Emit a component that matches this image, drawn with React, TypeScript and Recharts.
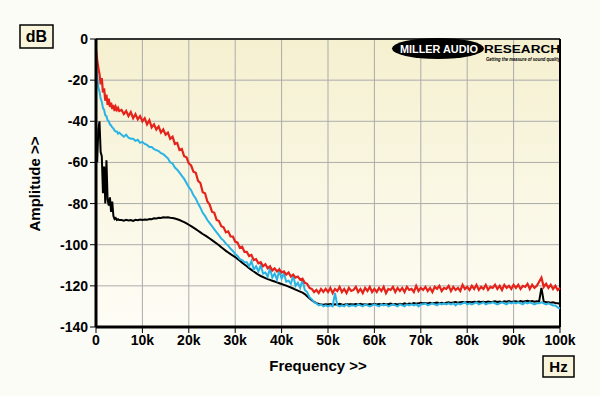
import { LineChart, Line, XAxis, YAxis, CartesianGrid, ReferenceLine } from 'recharts';

// frequency grid in kHz (finer steps below 5k where the curves fall fast)
const FREQ_KHZ = [
  0, 0.25, 0.5, 0.75, 1, 1.25, 1.5, 1.75, 2, 2.25, 2.5, 2.75, 3, 3.25, 3.5, 3.75, 4, 4.25, 4.5, 4.75, 5,
  5.5, 6, 6.5, 7, 7.5, 8, 8.5, 9, 9.5, 10,
  10.5, 11, 11.5, 12, 12.5, 13, 13.5, 14, 14.5, 15,
  15.5, 16, 16.5, 17, 17.5, 18, 18.5, 19, 19.5, 20,
  20.5, 21, 21.5, 22, 22.5, 23, 23.5, 24, 24.5, 25,
  25.5, 26, 26.5, 27, 27.5, 28, 28.5, 29, 29.5, 30,
  30.5, 31, 31.5, 32, 32.5, 33, 33.5, 34, 34.5, 35,
  35.5, 36, 36.5, 37, 37.5, 38, 38.5, 39, 39.5, 40,
  40.5, 41, 41.5, 42, 42.5, 43, 43.5, 44, 44.5, 45,
  45.5, 46, 46.5, 47, 47.5, 48, 48.5, 49, 49.5, 50,
  50.5, 51, 51.5, 52, 52.5, 53, 53.5, 54, 54.5, 55,
  55.5, 56, 56.5, 57, 57.5, 58, 58.5, 59, 59.5, 60,
  60.5, 61, 61.5, 62, 62.5, 63, 63.5, 64, 64.5, 65,
  65.5, 66, 66.5, 67, 67.5, 68, 68.5, 69, 69.5, 70,
  70.5, 71, 71.5, 72, 72.5, 73, 73.5, 74, 74.5, 75,
  75.5, 76, 76.5, 77, 77.5, 78, 78.5, 79, 79.5, 80,
  80.5, 81, 81.5, 82, 82.5, 83, 83.5, 84, 84.5, 85,
  85.5, 86, 86.5, 87, 87.5, 88, 88.5, 89, 89.5, 90,
  90.5, 91, 91.5, 92, 92.5, 93, 93.5, 94, 94.5, 95,
  95.5, 96, 96.5, 97, 97.5, 98, 98.5, 99, 99.5, 100,
];

const RED_DB = [
  -5, -10, -14, -17, -22, -19, -26, -24, -30, -27, -32, -29, -33, -31, -34, -32, -35, -33, -34.5, -33.5, -35,
  -34.5, -36.5, -35, -37.5, -35.5, -38.5, -36.5, -39, -37.5, -40,
  -38.5, -41.5, -39.5, -43, -41.5, -44, -42.5, -45.5, -44, -46.5,
  -45.5, -48.5, -47.5, -51, -50.5, -54, -53.5, -57, -57.5, -60.5,
  -61.5, -64.5, -65, -69, -70, -74.5, -75, -79, -80.5, -84,
  -84.5, -88, -88.5, -91, -91.5, -94, -93.5, -96, -96, -98.5,
  -99, -101.5, -101, -103.5, -103.5, -105.5, -105, -107.5, -107, -109,
  -108.5, -110.5, -109.5, -111.5, -110.5, -112.5, -111.5, -113, -112, -113.5,
  -113, -114.5, -113.5, -115.5, -114.5, -116, -115.5, -117, -116.5, -118.5,
  -119, -121, -121.5, -123, -122, -123.5, -121.5, -123, -121.5, -123,
  -121, -123.5, -121.5, -122.5, -120.5, -123, -121.5, -123.5, -121, -122.5,
  -122, -120.5, -123, -121.5, -123.5, -121, -122.5, -120.5, -123, -121.5,
  -123, -121, -122.5, -120.5, -123.5, -121.5, -122, -120.5, -123, -121,
  -122.5, -121, -123, -120.5, -122, -121.5, -123, -120, -122.5, -121,
  -122, -120.5, -122.5, -121, -123, -120.5, -121.5, -120, -122.5, -121,
  -121.5, -120, -122.5, -120.5, -122, -121, -122.5, -119.5, -121.5, -120.5,
  -122, -120, -121.5, -119.5, -122, -120.5, -121.5, -119.5, -122, -120.5,
  -121, -119.5, -121.5, -120, -122, -119.5, -121, -120, -121.5, -119.5,
  -121, -119.5, -121.5, -120, -120.5, -119, -121.5, -119.5, -121, -120,
  -118, -116, -120.5, -119, -121, -119.5, -121.5, -120, -122, -121,
];

const CYAN_DB = [
  -13, -18, -23.5, -25.5, -29, -30.5, -33.5, -34.5, -37, -37.5, -39.5, -40, -41.5, -42, -43, -43.5, -44.5, -45, -45, -46, -45.5,
  -46.5, -47.5, -46.5, -48, -48.5, -48.5, -49.5, -49, -50.5, -50,
  -51, -51.5, -52.5, -52.5, -53.5, -54, -54.5, -55.5, -56, -57,
  -58, -60, -60.5, -62.5, -63.5, -65, -66.5, -68, -70, -72,
  -73.5, -76, -77.5, -80, -82, -84.5, -86, -88, -89.5, -91,
  -92.5, -94, -95.5, -97, -98, -99.5, -100.5, -102, -103, -104.5,
  -105.5, -107, -107.5, -108.5, -108.5, -110.5, -108, -112, -110.5, -113,
  -110, -114, -113.5, -115.5, -111.5, -116, -114, -117, -112.5, -116.5,
  -114, -118, -117.5, -119, -115, -120, -118.5, -121, -117, -122,
  -123, -125.5, -126.5, -128, -128.5, -129.5, -129, -130, -129.5, -130,
  -129.5, -130, -123.5, -129.5, -130, -129.5, -130, -129, -130, -129.5,
  -129.5, -130, -129, -129.5, -130, -129, -129.5, -130, -129.5, -129,
  -129.5, -130, -129, -129.5, -129, -130, -129.5, -129, -129.5, -130,
  -129, -129.5, -130, -129, -129.5, -129, -129.5, -129, -130, -129,
  -129, -128.5, -129.5, -129, -128.5, -129, -129.5, -128.5, -129, -128.5,
  -129, -128.5, -129, -128.5, -129.5, -128.5, -129, -128.5, -128, -129,
  -128.5, -129, -128.5, -128, -129, -128.5, -128, -129, -128.5, -128.5,
  -128, -128.5, -129, -128.5, -128, -128.5, -129, -128, -128.5, -128,
  -128.5, -128, -128.5, -129, -128, -128.5, -128, -128.5, -129, -128.5,
  -128.5, -128, -128.5, -129, -128.5, -129, -129.5, -129.5, -130.5, -131,
];

const BLACK_DB = [
  -53, -60, -44, -40, -55, -57, -75, -62, -80, -59, -78, -81, -77, -84, -79, -86, -87.5, -87, -88, -87.6, -88,
  -88, -88.3, -87.9, -88.2, -88, -88.4, -87.9, -88.1, -87.8, -88,
  -87.8, -87.9, -87.5, -87.6, -87.2, -87.3, -86.9, -87, -86.7, -86.8,
  -86.7, -86.9, -87, -87.3, -87.6, -88, -88.5, -89, -89.6, -90.3,
  -91, -91.7, -92.4, -93.2, -94, -94.8, -95.5, -96.2, -97, -97.8,
  -98.6, -99.4, -100.3, -101.2, -102.1, -103, -103.8, -104.6, -105.3, -106,
  -106.9, -107.8, -108.7, -109.6, -110.5, -111.4, -112.2, -113, -113.8, -114.6,
  -115.2, -115.7, -116.2, -116.7, -117.1, -117.5, -117.9, -118.3, -118.7, -119.1,
  -119.5, -119.9, -120.4, -120.8, -121.3, -121.8, -122.3, -122.8, -123.3, -124,
  -125, -126, -127, -127.8, -128.4, -128.8, -129, -129.2, -129, -129.1,
  -128.8, -129.2, -128.9, -129.1, -128.7, -129, -129.2, -128.8, -129, -128.9,
  -129.1, -128.8, -129, -128.7, -129.1, -128.9, -129.2, -128.8, -129, -128.7,
  -129, -128.8, -129.1, -128.7, -129, -128.9, -128.6, -129, -128.8, -129.1,
  -128.7, -129, -128.5, -128.9, -128.6, -128.8, -128.4, -128.7, -128.5, -128.2,
  -128.5, -128.3, -128.6, -128.2, -128.5, -128.3, -128.1, -128.4, -128.2, -128.5,
  -128.2, -128, -128.3, -128.1, -127.9, -128.2, -128, -127.8, -128.1, -127.9,
  -127.8, -128, -127.7, -127.9, -127.6, -127.9, -127.7, -128, -127.6, -127.8,
  -127.7, -127.5, -127.8, -127.6, -127.9, -127.5, -127.7, -127.4, -127.8, -127.6,
  -127.5, -127.8, -127.4, -127.7, -127.5, -127.3, -127.6, -127.4, -127.7, -127.5,
  -127.6, -121, -127.7, -127.9, -128, -128.2, -128, -128.3, -128.5, -128.7,
];

const X_TICKS = [0, 10, 20, 30, 40, 50, 60, 70, 80, 90, 100];
const Y_TICKS = [0, -20, -40, -60, -80, -100, -120, -140];

const FONT = '"Liberation Sans", Arial, sans-serif';

const data = FREQ_KHZ.map((f, i) => ({
  f,
  red: RED_DB[i],
  cyan: CYAN_DB[i],
  black: BLACK_DB[i],
}));

const tickStyle = { fill: '#000', fontSize: 14, fontWeight: 700, fontFamily: FONT };

export default function App() {
  return (
    <div style={{ position: 'absolute', left: 0, top: 0, width: 600, height: 396, background: '#fcfcf7' }}>
      <LineChart width={600} height={396} data={data} margin={{ top: 39, right: 40, bottom: 39, left: 36 }}>
        <defs>
          <linearGradient id="plotBg" x1="0" y1="0" x2="0" y2="1">
            <stop offset="0%" stopColor="#f5f0cf" />
            <stop offset="100%" stopColor="#fefdf6" />
          </linearGradient>
        </defs>
        <CartesianGrid stroke="#ababab" strokeWidth={1} fill="url(#plotBg)" fillOpacity={1} />
        <XAxis
          type="number"
          dataKey="f"
          domain={[0, 100]}
          ticks={X_TICKS}
          tickFormatter={(v: number) => (v === 0 ? '0' : `${v}k`)}
          height={30}
          tick={tickStyle}
          tickSize={6}
          tickMargin={2}
          axisLine={{ stroke: '#000', strokeWidth: 3 }}
          tickLine={{ stroke: '#000' }}
          interval={0}
        />
        <YAxis
          type="number"
          domain={[-140, 0]}
          ticks={Y_TICKS}
          width={60}
          tick={tickStyle}
          tickSize={6}
          tickMargin={2}
          axisLine={{ stroke: '#000', strokeWidth: 3 }}
          tickLine={{ stroke: '#000' }}
          interval={0}
        />
        <ReferenceLine y={0} stroke="#000" strokeWidth={1.5} />
        <ReferenceLine x={100} stroke="#000" strokeWidth={2} />
        <Line dataKey="black" stroke="#000000" strokeWidth={2} dot={false} isAnimationActive={false} type="linear" />
        <Line dataKey="cyan" stroke="#2ab4e6" strokeWidth={2} dot={false} isAnimationActive={false} type="linear" />
        <Line dataKey="red" stroke="#e5231b" strokeWidth={2.2} dot={false} isAnimationActive={false} type="linear" />
      </LineChart>
      <svg
        width={600}
        height={396}
        style={{ position: 'absolute', left: 0, top: 0, pointerEvents: 'none' }}
        fontFamily={FONT}
      >
        {/* dB unit box */}
        <rect x={20} y={25} width={33} height={23} fill="#f8f5dc" stroke="#000" strokeWidth={1.5} />
        <text x={36.5} y={42} textAnchor="middle" fontSize={16} fontWeight={700}>dB</text>
        {/* Hz unit box */}
        <rect x={543} y={356} width={31} height={21} fill="#f8f5dc" stroke="#000" strokeWidth={1.5} />
        <text x={558.5} y={372} textAnchor="middle" fontSize={15} fontWeight={700}>Hz</text>
        {/* axis titles */}
        <text x={318} y={371} textAnchor="middle" fontSize={15} fontWeight={700}>Frequency &gt;&gt;</text>
        <text
          x={0}
          y={0}
          transform="translate(40 184) rotate(-90)"
          textAnchor="middle"
          fontSize={15}
          fontWeight={700}
        >
          Amplitude &gt;&gt;
        </text>
        {/* logo */}
        <ellipse cx={438} cy={48.5} rx={46} ry={10.5} fill="#000" />
        <text x={400} y={53} fontSize={11.5} fontWeight={900} fill="#fff" textLength={78} lengthAdjust="spacingAndGlyphs">
          MILLER AUDIO
        </text>
        <text x={484} y={53} fontSize={11.5} fontWeight={900} fill="#000" textLength={76} lengthAdjust="spacingAndGlyphs">
          RESEARCH
        </text>
        <text x={486} y={60.5} fontSize={4.5} fontWeight={700} fontStyle="italic" fill="#000" textLength={74} lengthAdjust="spacingAndGlyphs">
          Getting the measure of sound quality
        </text>
      </svg>
    </div>
  );
}
